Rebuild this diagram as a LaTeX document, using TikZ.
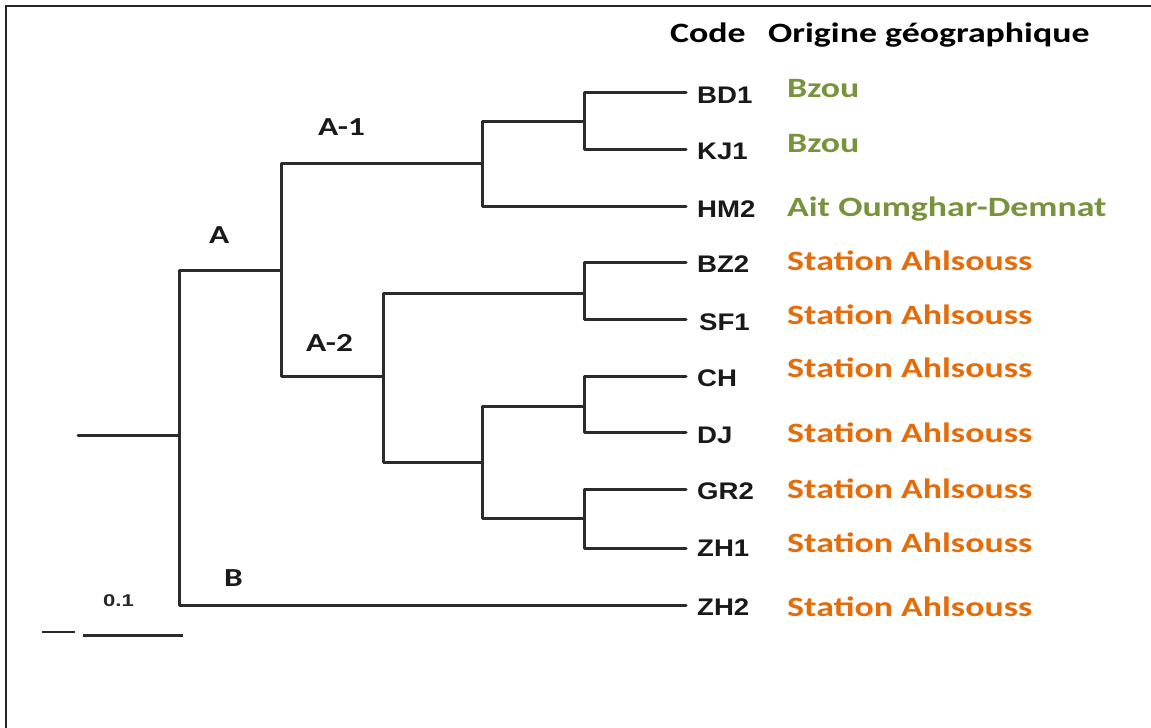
\documentclass[tikz,border=0pt]{standalone}
\usepackage{fontspec}
\newfontfamily\hdrfont{Carlito}[FakeStretch=1.28]
\newfontfamily\codefont{Liberation Sans}[FakeStretch=1.15]
\newfontfamily\scalefont{Liberation Sans}[FakeStretch=1.3]
\definecolor{treeline}{HTML}{2B2B2B}
\definecolor{olive}{HTML}{77933C}
\definecolor{orangeo}{HTML}{E46C0A}
\tikzset{
  branch/.style={draw=treeline, line width=3pt, line cap=round, line join=round},
  codelbl/.style={anchor=base west, inner sep=0pt, font=\codefont\bfseries\fontsize{24}{24}\selectfont, text=black!90},
  origin/.style={anchor=base west, inner sep=0pt, font=\hdrfont\bfseries\fontsize{28}{28}\selectfont},
  clade/.style={anchor=base west, inner sep=0pt, font=\hdrfont\bfseries\fontsize{26}{26}\selectfont, text=black!90},
}
\begin{document}
\begin{tikzpicture}[x=1pt,y=-1pt]
\useasboundingbox (0,0) rectangle (1151,728);
% frame (top and left edges)
\draw[line width=2.2pt, black!85] (6,728) -- (6,6) -- (1151,6);

% headers
\node[origin, text=black] (hcode) at (670,42) {Code};
\node[origin, text=black] (horig) at (768,42) {Origine géographique};

% internal nodes
\coordinate (stub) at (78,435);
\coordinate (root) at (179,435);
\coordinate (A)    at (281,270);
\coordinate (A1)   at (482,163);
\coordinate (A11)  at (584,121);
\coordinate (A2)   at (383,376);
\coordinate (A21)  at (584,293);
\coordinate (A22)  at (482,462);
\coordinate (A221) at (584,406);
\coordinate (A222) at (584,518);

% leaf tips
\coordinate (tBD1) at (686,92);
\coordinate (tKJ1) at (686,149);
\coordinate (tHM2) at (686,206);
\coordinate (tBZ2) at (686,262);
\coordinate (tSF1) at (686,319);
\coordinate (tCH)  at (686,376);
\coordinate (tDJ)  at (686,432);
\coordinate (tGR2) at (686,489);
\coordinate (tZH1) at (686,548);
\coordinate (tZH2) at (686,605);

% branches
\draw[branch] (stub) -- (root);
\draw[branch] (root) |- (A);
\draw[branch] (root) |- (tZH2);
\draw[branch] (A) |- (A1);
\draw[branch] (A) |- (A2);
\draw[branch] (A1) |- (A11);
\draw[branch] (A1) |- (tHM2);
\draw[branch] (A11) |- (tBD1);
\draw[branch] (A11) |- (tKJ1);
\draw[branch] (A2) |- (A21);
\draw[branch] (A2) |- (A22);
\draw[branch] (A21) |- (tBZ2);
\draw[branch] (A21) |- (tSF1);
\draw[branch] (A22) |- (A221);
\draw[branch] (A22) |- (A222);
\draw[branch] (A221) |- (tCH);
\draw[branch] (A221) |- (tDJ);
\draw[branch] (A222) |- (tGR2);
\draw[branch] (A222) |- (tZH1);

% clade labels
\node[clade] (lA1) at (318,135) {A-1};
\node[clade] (lA)  at (209,243) {A};
\node[clade] (lA2) at (306,351) {A-2};
\node[clade] (lB)  at (224,586) {B};

% codes
\node[codelbl] (cBD1) at (697,103) {BD1};
\node[codelbl] (cKJ1) at (697,159) {KJ1};
\node[codelbl] (cHM2) at (697,217) {HM2};
\node[codelbl] (cBZ2) at (697,272) {BZ2};
\node[codelbl] (cSF1) at (699,330) {SF1};
\node[codelbl] (cCH)  at (697,386) {CH};
\node[codelbl] (cDJ)  at (697,443) {DJ};
\node[codelbl] (cGR2) at (697,499) {GR2};
\node[codelbl] (cZH1) at (697,556) {ZH1};
\node[codelbl] (cZH2) at (697,615) {ZH2};

% geographic origin
\node[origin, text=olive] (oBD1) at (787,97)  {Bzou};
\node[origin, text=olive] (oKJ1) at (787,152) {Bzou};
\node[origin, text=olive] (oHM2) at (787,216) {Ait Oumghar-Demnat};
\node[origin, text=orangeo] (oBZ2) at (787,270) {Station Ahlsouss};
\node[origin, text=orangeo] (oSF1) at (787,324) {Station Ahlsouss};
\node[origin, text=orangeo] (oCH)  at (787,377) {Station Ahlsouss};
\node[origin, text=orangeo] (oDJ)  at (787,442) {Station Ahlsouss};
\node[origin, text=orangeo] (oGR2) at (787,498) {Station Ahlsouss};
\node[origin, text=orangeo] (oZH1) at (787,552) {Station Ahlsouss};
\node[origin, text=orangeo] (oZH2) at (787,616) {Station Ahlsouss};

% scale bar
\node[anchor=base west, inner sep=0pt, font=\scalefont\bfseries\fontsize{17}{17}\selectfont, text=black!85] (sc) at (103,606) {0.1};
\coordinate (sbL) at (83,635);
\coordinate (sbR) at (183,635);
\draw[treeline, line width=3pt] (sbL) -- (sbR);
\coordinate (tkL) at (42,632);
\coordinate (tkR) at (75,632);
\draw[treeline, line width=1.3pt] (tkL) -- (tkR);
\end{tikzpicture}
\end{document}
